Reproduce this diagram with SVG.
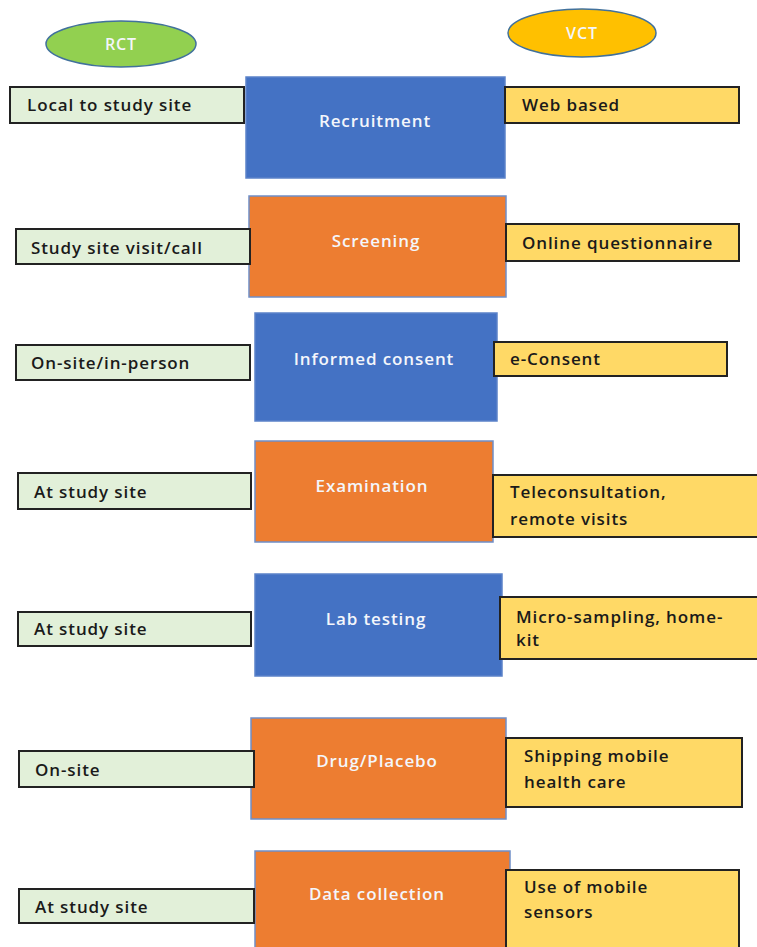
<svg xmlns="http://www.w3.org/2000/svg" width="757" height="947" viewBox="0 0 757 947">
  <style>
    .step-blue { fill: #4472C4; stroke: #5B82C9; stroke-width: 1.5; }
    .step-orange { fill: #ED7D31; stroke: #6F8FC8; stroke-width: 1.5; }
    .rct { fill: #E2F0D9; stroke: #222; stroke-width: 2; }
    .vct { fill: #FFD966; stroke: #222; stroke-width: 2; }
    text { font-family: "Open Sans", "Liberation Sans", sans-serif; font-size: 17px; font-weight: 600; letter-spacing: 0.9px; }
    .step-label { fill: #F4F6FB; text-anchor: middle; }
    .side-label { fill: #1A1A1A; }
    .head-label { fill: #F4F6FB; text-anchor: middle; font-size: 16px; }
  </style>

  <!-- column headers -->
  <g id="rct-header">
    <ellipse cx="121" cy="44" rx="75" ry="23" fill="#92D050" stroke="#41719C" stroke-width="1.5"/>
    <text class="head-label" x="121" y="50">RCT</text>
  </g>
  <g id="vct-header">
    <ellipse cx="582" cy="33" rx="74" ry="24" fill="#FFC000" stroke="#41719C" stroke-width="1.5"/>
    <text class="head-label" x="582" y="39">VCT</text>
  </g>

  <!-- row 1: Recruitment -->
  <g id="recruitment">
    <rect class="step-blue" x="246" y="77" width="259" height="101"/>
    <text class="step-label" x="375" y="127">Recruitment</text>
  </g>
  <g id="rct-recruitment">
    <rect class="rct" x="10" y="87" width="234" height="36"/>
    <text class="side-label" x="27" y="111">Local to study site</text>
  </g>
  <g id="vct-recruitment">
    <rect class="vct" x="505" y="87" width="234" height="36"/>
    <text class="side-label" x="522" y="111">Web based</text>
  </g>

  <!-- row 2: Screening -->
  <g id="screening">
    <rect class="step-orange" x="249" y="196" width="257" height="101"/>
    <text class="step-label" x="376" y="247">Screening</text>
  </g>
  <g id="rct-screening">
    <rect class="rct" x="16" y="229" width="234" height="35"/>
    <text class="side-label" x="31" y="254">Study site visit/call</text>
  </g>
  <g id="vct-screening">
    <rect class="vct" x="506" y="224" width="233" height="37"/>
    <text class="side-label" x="522" y="249">Online questionnaire</text>
  </g>

  <!-- row 3: Informed consent -->
  <g id="informed-consent">
    <rect class="step-blue" x="255" y="313" width="242" height="108"/>
    <text class="step-label" x="374" y="365">Informed consent</text>
  </g>
  <g id="rct-consent">
    <rect class="rct" x="16" y="345" width="234" height="35"/>
    <text class="side-label" x="31" y="369">On-site/in-person</text>
  </g>
  <g id="vct-consent">
    <rect class="vct" x="494" y="342" width="233" height="34"/>
    <text class="side-label" x="510" y="365">e-Consent</text>
  </g>

  <!-- row 4: Examination -->
  <g id="examination">
    <rect class="step-orange" x="255" y="441" width="238" height="101"/>
    <text class="step-label" x="372" y="492">Examination</text>
  </g>
  <g id="rct-examination">
    <rect class="rct" x="18" y="473" width="233" height="36"/>
    <text class="side-label" x="34" y="498">At study site</text>
  </g>
  <g id="vct-examination">
    <rect class="vct" x="493" y="475" width="270" height="62"/>
    <text class="side-label" x="510" y="498">Teleconsultation,</text>
    <text class="side-label" x="510" y="525">remote visits</text>
  </g>

  <!-- row 5: Lab testing -->
  <g id="lab-testing">
    <rect class="step-blue" x="255" y="574" width="247" height="102"/>
    <text class="step-label" x="376" y="625">Lab testing</text>
  </g>
  <g id="rct-lab">
    <rect class="rct" x="18" y="612" width="233" height="34"/>
    <text class="side-label" x="34" y="635">At study site</text>
  </g>
  <g id="vct-lab">
    <rect class="vct" x="500" y="597" width="263" height="62"/>
    <text class="side-label" x="516" y="623">Micro-sampling, home-</text>
    <text class="side-label" x="516" y="646">kit</text>
  </g>

  <!-- row 6: Drug/Placebo -->
  <g id="drug-placebo">
    <rect class="step-orange" x="251" y="718" width="255" height="101"/>
    <text class="step-label" x="377" y="767">Drug/Placebo</text>
  </g>
  <g id="rct-drug">
    <rect class="rct" x="19" y="751" width="235" height="36"/>
    <text class="side-label" x="35" y="776">On-site</text>
  </g>
  <g id="vct-drug">
    <rect class="vct" x="506" y="738" width="236" height="69"/>
    <text class="side-label" x="524" y="762">Shipping mobile</text>
    <text class="side-label" x="524" y="788">health care</text>
  </g>

  <!-- row 7: Data collection -->
  <g id="data-collection">
    <rect class="step-orange" x="255" y="851" width="255" height="110"/>
    <text class="step-label" x="377" y="900">Data collection</text>
  </g>
  <g id="rct-data">
    <rect class="rct" x="19" y="889" width="235" height="34"/>
    <text class="side-label" x="35" y="913">At study site</text>
  </g>
  <g id="vct-data">
    <rect class="vct" x="506" y="870" width="233" height="90"/>
    <text class="side-label" x="524" y="893">Use of mobile</text>
    <text class="side-label" x="524" y="918">sensors</text>
  </g>

  <!-- no connectors: boxes touch edge to edge -->
  <g id="connectors"/>
</svg>
